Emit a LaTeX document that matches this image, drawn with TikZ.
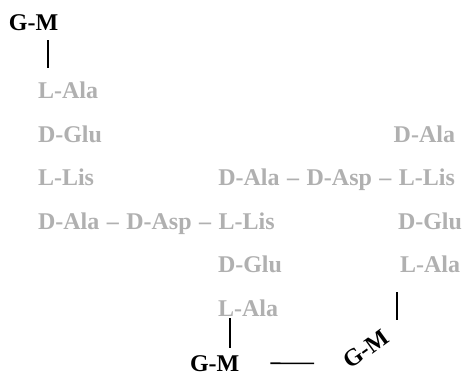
\documentclass[tikz,border=0pt]{standalone}
\usepackage{fontspec}
\setmainfont{Liberation Serif}
\definecolor{aagray}{RGB}{176,176,176}
\newcommand\dsh{\hspace{7.5pt}--\hspace{7.5pt}}
\begin{document}
\begin{tikzpicture}[x=1pt,y=1pt,
  every node/.style={inner sep=0pt,outer sep=0pt,font=\fontsize{24}{28}\selectfont\bfseries},
  gm/.style={text=black},
  aa/.style={text=aagray},
  conn/.style={draw=black,line width=1.6pt}]
\useasboundingbox (0,0) rectangle (463,376);
% chain 1
\node[gm,anchor=base west] (gm1) at (9,346) {G-M};
\node[aa,anchor=base west] (la1) at (38,278) {L-Ala};
\node[aa,anchor=base west] (dg1) at (38,234) {D-Glu};
\node[aa,anchor=base west] (ll1) at (38,191) {L-Lis};
\node[aa,anchor=base west] (br1) at (38,147) {D-Ala\dsh D-Asp\dsh L-Lis};
% chain 2
\node[aa,anchor=base east] (da2) at (455,234) {D-Ala};
\node[aa,anchor=base east] (br2) at (455,191) {D-Ala\dsh D-Asp\dsh L-Lis};
\node[aa,anchor=base west] (dg2) at (398,147) {D-Glu};
\node[aa,anchor=base west] (la2) at (400,104) {L-Ala};
% chain 3
\node[aa,anchor=base west] (dg3) at (218,104) {D-Glu};
\node[aa,anchor=base west] (la3) at (218,60) {L-Ala};
\node[gm,anchor=base west] (gm2) at (190,5) {G-M};
\node[gm,rotate=36] (gm3) at (366,27) {G-M};
% connectors
\draw[conn,shorten <=10pt,shorten >=13pt] ([xshift=39pt]gm1.south west) -- ([xshift=10pt]la1.north west);
\draw[conn,shorten <=2pt,shorten >=7pt] ([xshift=12pt]la3.south west) -- ([xshift=40pt]gm2.north west);
\draw[conn,shorten <=31pt,shorten >=32pt] (gm2.east) -- (gm3.west);
\draw[conn,shorten <=20pt,shorten >=22pt] ([xshift=-3pt]la2.south west) -- ([xshift=-3pt]la2.south west |- gm3.north);
\end{tikzpicture}
\end{document}
